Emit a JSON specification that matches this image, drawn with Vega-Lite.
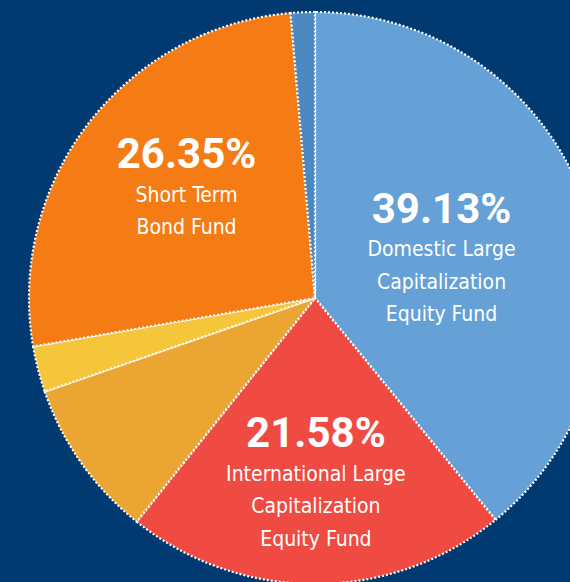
{
  "$schema": "https://vega.github.io/schema/vega-lite/v6.json",
  "width": 510,
  "height": 568,
  "autosize": {"type": "none"},
  "padding": {"left": 60, "top": 14, "right": 0, "bottom": 0},
  "background": "#003a70",
  "config": {"view": {"stroke": null}},
  "data": {
    "values": [
      {"rank": 1, "fund": "Domestic Large Capitalization Equity Fund", "label": "Domestic Large\nCapitalization\nEquity Fund", "share": 0.3913},
      {"rank": 2, "fund": "International Large Capitalization Equity Fund", "label": "International Large\nCapitalization\nEquity Fund", "share": 0.2158},
      {"rank": 3, "fund": "Other Fund A", "label": "", "share": 0.0898},
      {"rank": 4, "fund": "Other Fund B", "label": "", "share": 0.026},
      {"rank": 5, "fund": "Short Term Bond Fund", "label": "Short Term\nBond Fund", "share": 0.2635},
      {"rank": 6, "fund": "Other Fund C", "label": "", "share": 0.0136}
    ]
  },
  "encoding": {
    "theta": {"field": "share", "type": "quantitative", "stack": true},
    "order": {"field": "rank", "type": "quantitative"}
  },
  "layer": [
    {
      "mark": {"type": "arc", "radius": 286, "stroke": "white", "strokeWidth": 2.2, "strokeDash": [2, 2]},
      "encoding": {
        "color": {
          "field": "fund",
          "type": "nominal",
          "scale": {
            "domain": ["Domestic Large Capitalization Equity Fund", "International Large Capitalization Equity Fund", "Other Fund A", "Other Fund B", "Short Term Bond Fund", "Other Fund C"],
            "range": ["#65a1d7", "#ef4b42", "#eba533", "#f5c63a", "#f57b15", "#4b89c3"]
          },
          "legend": null
        }
      }
    },
    {
      "mark": {"type": "text", "radius": 134.3, "font": "Roboto", "fontWeight": "bold", "fontSize": 42, "fill": "white", "align": "center", "baseline": "alphabetic", "dy": -30.5},
      "encoding": {"text": {"field": "share", "type": "quantitative", "format": ".2%", "condition": {"test": "datum.rank !== 1", "value": ""}}}
    },
    {
      "mark": {"type": "text", "radius": 180, "font": "Roboto", "fontWeight": "bold", "fontSize": 42, "fill": "white", "align": "center", "baseline": "alphabetic", "dy": -30.5},
      "encoding": {"text": {"field": "share", "type": "quantitative", "format": ".2%", "condition": {"test": "datum.rank !== 2", "value": ""}}}
    },
    {
      "mark": {"type": "text", "radius": 162.3, "font": "Roboto", "fontWeight": "bold", "fontSize": 42, "fill": "white", "align": "center", "baseline": "alphabetic", "dy": -30.5},
      "encoding": {"text": {"field": "share", "type": "quantitative", "format": ".2%", "condition": {"test": "datum.rank !== 5", "value": ""}}}
    },
    {
      "mark": {"type": "text", "radius": 134.3, "font": "DejaVu Sans Condensed", "fontSize": 21, "fill": "white", "align": "center", "baseline": "alphabetic", "dy": 3, "lineBreak": "\n", "lineHeight": 32.5},
      "encoding": {"text": {"field": "label", "type": "nominal", "condition": {"test": "datum.rank !== 1", "value": ""}}}
    },
    {
      "mark": {"type": "text", "radius": 180, "font": "DejaVu Sans Condensed", "fontSize": 21, "fill": "white", "align": "center", "baseline": "alphabetic", "dy": 3, "lineBreak": "\n", "lineHeight": 32.5},
      "encoding": {"text": {"field": "label", "type": "nominal", "condition": {"test": "datum.rank !== 2", "value": ""}}}
    },
    {
      "mark": {"type": "text", "radius": 162.3, "font": "DejaVu Sans Condensed", "fontSize": 21, "fill": "white", "align": "center", "baseline": "alphabetic", "dy": 3, "lineBreak": "\n", "lineHeight": 32.5},
      "encoding": {"text": {"field": "label", "type": "nominal", "condition": {"test": "datum.rank !== 5", "value": ""}}}
    }
  ]
}
